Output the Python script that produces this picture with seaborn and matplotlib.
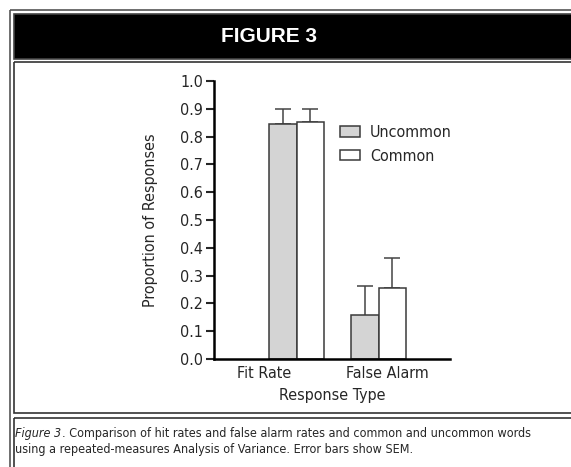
import pandas as pd
import seaborn as sns
import matplotlib.pyplot as plt
from matplotlib.patches import Rectangle

# values
categories = ['Fit Rate', 'False Alarm']
word_types = ['Uncommon', 'Common']
uncommon = [0.847, 0.158]
common = [0.851, 0.256]
uncommon_upper = [0.898, 0.261]
common_upper = [0.899, 0.364]
uncommon_lower = [0.847, 0.142]
common_lower = [0.851, 0.256]

df = pd.DataFrame({
    'Response Type': categories * 2,
    'Proportion': uncommon + common,
    'Word': [word_types[0]] * 2 + [word_types[1]] * 2,
})

sns.set_style('white')
plt.rcParams['font.family'] = ['DejaVu Sans']
plt.rcParams['font.stretch'] = 'condensed'

W, H = 571, 467
fig = plt.figure(figsize=(W / 100, H / 100), dpi=100)

# page decoration: frame, black header, caption box
bg = fig.add_axes([0, 0, 1, 1], zorder=0)
bg.set_xlim(0, W)
bg.set_ylim(H, 0)
bg.axis('off')
bg.add_patch(Rectangle((10, 10), 600, 500, fill=False, ec='#555555', lw=1.2))
bg.add_patch(Rectangle((14, 14), 600, 45, fc='black', ec='#444444', lw=1.2))
bg.add_patch(Rectangle((14, 61.5), 600, 351.5, fill=False, ec='#333333', lw=1.2))
bg.add_patch(Rectangle((14, 418), 600, 80, fill=False, ec='#333333', lw=1.2))
bg.text(269, 37, 'FIGURE 3', color='white', fontsize=15, fontweight='bold',
        family='Liberation Sans', stretch='normal', ha='center', va='center')

# caption: italic lead-in followed by regular text
cap_size = 9.0
lead = bg.text(15, 433, 'Figure 3', fontsize=cap_size, style='italic', ha='left', va='center')
fig.canvas.draw()
ext = lead.get_window_extent(fig.canvas.get_renderer())
bg.text(ext.x1 + 0.5, 433, '. Comparison of hit rates and false alarm rates and common and uncommon words',
        fontsize=cap_size, ha='left', va='center')
bg.text(15, 450, 'using a repeated-measures Analysis of Variance. Error bars show SEM.',
        fontsize=cap_size, ha='left', va='center')

ax = fig.add_axes([214 / W, (H - 359) / H, 236 / W, 278 / H], zorder=1)
ax.patch.set_alpha(0)
sns.barplot(data=df, x='Response Type', y='Proportion', hue='Word',
            palette=['#d4d4d4', 'white'], edgecolor='#3a3a3a', linewidth=1.1,
            width=0.67, errorbar=None, ax=ax)

# SEM error bars at the bar centres
bars = [p for p in ax.patches if p.get_height() > 0][:4]
tops = uncommon_upper + common_upper
lows = uncommon_lower + common_lower
vals = uncommon + common
for b, v, hi, lo in zip(bars, vals, tops, lows):
    x = b.get_x() + b.get_width() / 2
    ax.errorbar(x, v, yerr=[[v - lo], [hi - v]], color='#444444', lw=1.1,
                capsize=6, capthick=1.1, zorder=0)

ax.set_ylim(0, 1.0)
ax.set_xlim(-1.01, 1.87)
ax.set_xticks([-0.4, 1.1])
ax.set_xticklabels(categories)
ax.set_yticks([i / 10 for i in range(11)])
ax.set_yticklabels([f'{i / 10:.1f}' for i in range(11)])
ax.tick_params(axis='y', length=6, width=1.5, direction='out', labelsize=11.5, pad=2, left=True)
ax.tick_params(axis='x', length=0, labelsize=11.5, pad=5)
sns.despine(ax=ax)
for s in ['left', 'bottom']:
    ax.spines[s].set_linewidth(1.8)
    ax.spines[s].set_color('black')
ax.set_ylabel('Proportion of Responses', fontsize=11.5, labelpad=16)
ax.set_xlabel('Response Type', fontsize=11.5, labelpad=5)

handles, labels = ax.get_legend_handles_labels()
ax.legend(handles, labels, loc='upper left', bbox_to_anchor=(0.505, 0.865), frameon=False,
          fontsize=11.5, handlelength=1.3, handleheight=0.65, handletextpad=0.6,
          labelspacing=0.55, borderaxespad=0)

fig.savefig('out.png', dpi=100)
